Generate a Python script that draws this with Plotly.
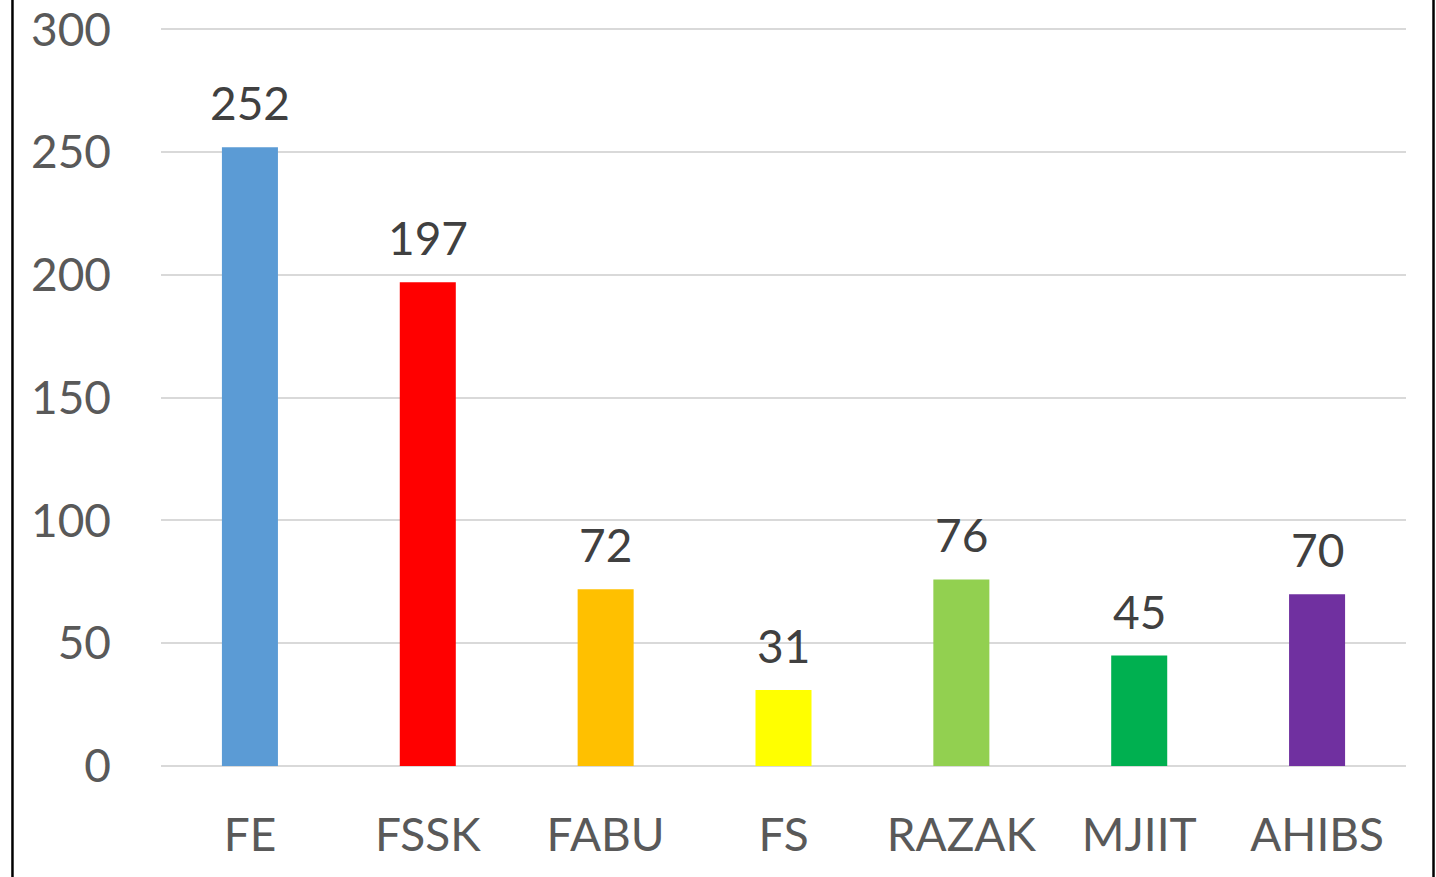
import plotly.graph_objects as go

categories = ["FE", "FSSK", "FABU", "FS", "RAZAK", "MJIIT", "AHIBS"]
values = [252, 197, 72, 31, 76, 45, 70]
colors = ["#5B9BD5", "#FF0000", "#FFC000", "#FFFF00", "#92D050", "#00B050", "#7030A0"]
y_ticks = [0, 50, 100, 150, 200, 250, 300]

FONT = "Lato"

fig = go.Figure()
fig.add_trace(go.Bar(
    x=categories, y=values,
    marker=dict(color=colors, line=dict(width=0)),
    hoverinfo="x+y",
))

for c, v in zip(categories, values):
    fig.add_annotation(
        x=c, y=v, text=str(v), showarrow=False,
        yanchor="bottom", yshift=15,
        font=dict(family=FONT, size=46, color="#404040"),
    )

# left and right border lines of the chart area
for xp in (-0.1193, 1.0221):
    fig.add_shape(type="line", xref="paper", yref="paper",
                  x0=xp, x1=xp, y0=-0.16, y1=1.05,
                  line=dict(color="black", width=2.5))

fig.update_layout(
    width=1436, height=877,
    margin=dict(l=161, r=30, t=28, b=111, autoexpand=False),
    paper_bgcolor="white", plot_bgcolor="white",
    bargap=0.685,
    showlegend=False,
    font=dict(family=FONT),
)
fig.update_yaxes(
    range=[0, 300.6], tickvals=y_ticks,
    showgrid=True, gridcolor="#D9D9D9", gridwidth=2,
    zeroline=True, zerolinecolor="#D9D9D9", zerolinewidth=2,
    showline=False, ticks="",
    tickfont=dict(family=FONT, size=46, color="#595959"),
    ticklabelstandoff=49,
    ticklabeloverflow="allow",
)
fig.update_xaxes(
    showgrid=False, showline=False, ticks="",
    tickfont=dict(family=FONT, size=46, color="#595959"),
    ticklabelstandoff=38,
)

fig.write_html(
    "out.html",
    config={"displayModeBar": False},
    post_script="document.body.style.margin='0';document.body.style.overflow='hidden';",
)
